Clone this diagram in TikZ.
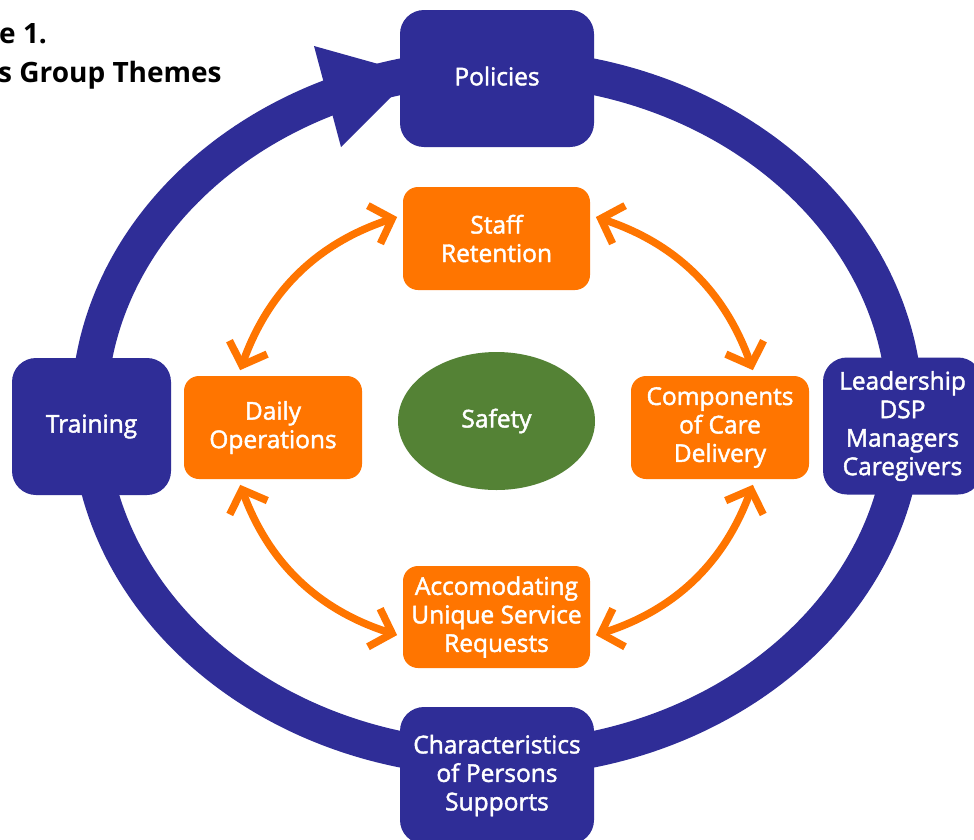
\documentclass[tikz,border=0pt]{standalone}
\usepackage{fontspec}
\setmainfont{Open Sans}
\newfontfamily\semib{Open Sans}[FakeBold=1.8]
\usetikzlibrary{arrows.meta,shapes.geometric}
\definecolor{navy}{RGB}{47,45,151}
\definecolor{themeorange}{RGB}{255,117,0}
\definecolor{leafgreen}{RGB}{84,130,53}
\newcommand{\labelfont}{\semib\fontsize{24.5}{28.5}\selectfont}
\begin{document}
\begin{tikzpicture}[x=1pt,y=-1pt,
  navybox/.style={fill=navy, rounded corners=24pt, minimum height=137pt,
    inner sep=0pt, text=white, align=center, font=\labelfont},
  orangebox/.style={fill=themeorange, rounded corners=15pt, minimum height=103pt,
    inner sep=0pt, text=white, align=center, font=\labelfont},
  barb/.tip={Straight Barb[length=19pt, width=40pt, sharp]},
  twoway/.style={draw=themeorange, line width=7.5pt, barb-barb,
    shorten <=6pt, shorten >=6pt},
  titletext/.style={anchor=base west, inner sep=0pt, font=\bfseries\fontsize{28}{32}\selectfont}]
\useasboundingbox (0,0) rectangle (974,839);
\fill[white] (0,0) rectangle (974,839);

% outer cycle with its arrow head
\draw[navy, line width=36pt] (497,413) ellipse [x radius=408, y radius=346];
\fill[navy] (314,46) -- (414,74) -- (341,147) -- cycle;

% title
\node[titletext] (t1) at (-1,43) {e 1.};
\node[titletext] (t2) at (-2,82) {s Group Themes};

% outer themes
\node[navybox, minimum width=194pt] (policies) at (497,78.5) {\raisebox{5pt}{Policies}};
\node[navybox, minimum width=194pt] (persons) at (497,775.5) {Characteristics\\of Persons\\Supports};
\node[navybox, minimum width=159pt] (training) at (91.5,426.5) {Training};
\node[navybox, minimum width=159pt] (leaders) at (902.5,426) {Leadership\\DSP\\Managers\\Caregivers};

% inner themes
\node[orangebox, minimum width=187pt] (staff) at (496.5,238.5) {Staff\\Retention};
\node[orangebox, minimum width=178pt] (daily) at (273,427.5) {Daily\\Operations};
\node[orangebox, minimum width=178pt] (care) at (720,427.5) {Components\\of Care\\Delivery};
\node[orangebox, minimum width=187pt, minimum height=102pt] (requests) at (496.5,617) {Accomodating\\Unique Service\\Requests};

% centre
\node[ellipse, fill=leafgreen, minimum width=197pt, minimum height=138pt, inner sep=0pt,
  text=white, font=\labelfont] (safety) at (496.5,421) {Safety};

% two-way links between the inner themes
\draw[twoway] (staff.166) to[bend right=26] (daily.124);
\draw[twoway] (staff.14) to[bend left=26] (care.56);
\draw[twoway] (daily.236) to[bend right=26] (requests.192);
\draw[twoway] (care.304) to[bend left=26] (requests.348);
\end{tikzpicture}
\end{document}
